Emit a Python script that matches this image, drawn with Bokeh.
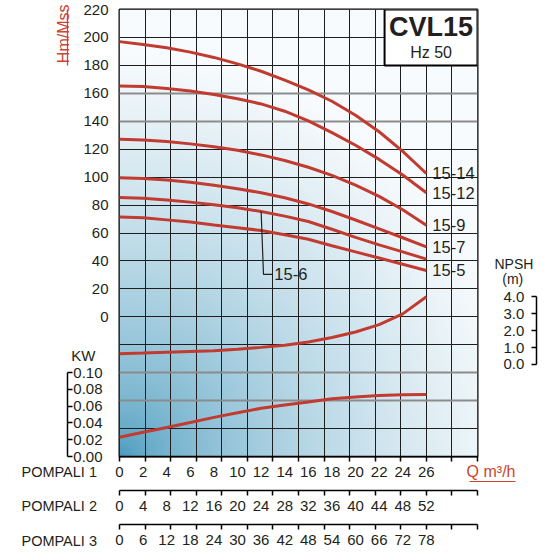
import numpy as np
from bokeh.plotting import figure
from bokeh.models import (Range1d, LinearAxis, FixedTicker, Grid, ColumnDataSource,
                          NumeralTickFormatter, Title)
from bokeh.core.properties import value
from bokeh.embed import file_html
from bokeh.resources import INLINE

# ---------------- data ----------------
q = [0, 2, 4, 6, 8, 10, 12, 14, 16, 18, 20, 22, 24, 26]          # m3/h, 1 pump
h_15_14 = [197.0, 195.0, 192.6, 189.5, 185.7, 181.1, 175.8, 169.5, 162.5, 154.3, 144.3, 132.5, 118.5, 102.6]
h_15_12 = [165.3, 164.8, 163.4, 161.6, 159.2, 156.1, 152.4, 147.2, 140.2, 131.9, 122.8, 112.7, 101.5, 88.8]
h_15_9 = [127.2, 126.6, 125.5, 123.8, 121.7, 119.2, 115.9, 111.9, 107.1, 101.3, 94.3, 86.2, 76.6, 65.5]
h_15_7 = [99.5, 99.0, 98.0, 96.3, 94.2, 91.7, 88.8, 85.2, 80.8, 75.4, 69.3, 63.0, 56.6, 50.0]
h_15_6 = [85.4, 84.8, 83.6, 82.1, 80.2, 78.1, 75.4, 72.1, 68.2, 62.7, 56.9, 51.5, 46.5, 41.3]
h_15_5 = [71.5, 70.9, 69.4, 67.8, 65.7, 63.8, 61.8, 58.8, 55.5, 50.9, 46.5, 42.1, 37.6, 33.2]
kw = [0.023, 0.029, 0.0345, 0.0405, 0.0467, 0.0523, 0.0575, 0.0615, 0.0650, 0.0690, 0.0710, 0.0727, 0.0738, 0.0741]
npsh = [0.63, 0.67, 0.72, 0.77, 0.81, 0.90, 1.01, 1.14, 1.33, 1.59, 1.92, 2.36, 2.99, 4.0]

end_names = ["15-14", "15-12", "15-9", "15-7", "15-5"]
h_ticks = list(range(0, 221, 20))
kw_ticks = [0.0, 0.02, 0.04, 0.06, 0.08, 0.10]
npsh_ticks = [0.0, 1.0, 2.0, 3.0, 4.0]
pump_counts = [1, 2, 3]
title = "CVL15"
subtitle = "Hz 50"
y_title = "Hm/Mss"
x_title = "Q m\u00b3/h"
kw_title = "KW"
npsh_title = ["NPSH", "\u00a0\u00a0(m)"]

# ---------------- style / layout ----------------
FONT = "Liberation Sans"
RED = "#c23b30"
TRED = "#c9472f"
INK = "#231f20"

grid_cols, curve_cols = 14, 12
x_max = q[-1] * grid_cols / curve_cols
x_grid = [k * x_max / grid_cols for k in range(grid_cols + 1)]
h_lo, h_hi = -100, 220
kw_per_h = 0.1 / 60
npsh_zero_h, h_per_m = -34.1, 12.1
gray_rows = [160, 140, -40, -60]

p = figure(width=554, height=554, x_range=Range1d(0, x_max), y_range=Range1d(h_lo, h_hi),
           output_backend="svg", toolbar_location=None,
           min_border_left=119, min_border_right=77, min_border_top=9, min_border_bottom=98,
           outline_line_color="black", outline_line_width=2,
           background_fill_color="white", border_fill_color="white")
p.extra_y_ranges = {"kw": Range1d(0, (h_hi - h_lo) * kw_per_h),
                    "npsh": Range1d((h_lo - npsh_zero_h) / h_per_m, (h_hi - npsh_zero_h) / h_per_m)}
p.extra_x_ranges = {"p2": Range1d(0, 2 * x_max), "p3": Range1d(0, 3 * x_max)}

# background gradient (blue in the lower-left corner fading to white)
nx, ny = 180, 220
u = np.linspace(0, 1, nx)[None, :]
v = np.linspace(0, 1, ny)[:, None]
d = np.sqrt((u * 358) ** 2 + (v * 445) ** 2)
t = np.clip(d / 400.0, 0, 1) ** 0.6
c0 = np.array([68, 152, 188], dtype=float)
c1 = np.array([248, 251, 253], dtype=float)
rgb = c0 + (c1 - c0) * t[..., None]
img = np.empty((ny, nx), dtype=np.uint32)
view = img.view(dtype=np.uint8).reshape((ny, nx, 4))
view[..., :3] = rgb.astype(np.uint8)
view[..., 3] = 255
p.image_rgba(image=[img], x=0, y=h_lo, dw=x_max, dh=h_hi - h_lo, level="image")

# grids
p.xgrid[0].ticker = FixedTicker(ticks=x_grid)
p.xgrid[0].grid_line_color = "#1e1e1e"
p.xgrid[0].grid_line_width = 1
p.ygrid[0].ticker = FixedTicker(ticks=[r for r in range(h_lo, h_hi + 1, 20) if r not in gray_rows])
p.ygrid[0].grid_line_color = "#1e1e1e"
p.ygrid[0].grid_line_width = 1
p.add_layout(Grid(dimension=1, ticker=FixedTicker(ticks=gray_rows),
                  grid_line_color="#8c8c8c", grid_line_width=2))


def style_text(ax, size="15px", color=INK):
    ax.major_label_text_font = FONT
    ax.major_label_text_font_size = size
    ax.major_label_text_color = color


def bare(ax, size="15px", color=INK):
    ax.major_tick_out = 0
    ax.major_tick_in = 0
    ax.minor_tick_out = 0
    ax.minor_tick_in = 0
    ax.major_tick_line_color = None
    ax.minor_tick_line_color = None
    ax.axis_line_color = None
    style_text(ax, size, color)


def pad(ax, size, standoff):
    ax.axis_label = " "
    ax.axis_label_text_font = FONT
    ax.axis_label_text_font_size = size
    ax.axis_label_standoff = standoff


def scale_axis(ax):
    ax.major_tick_out = 5
    ax.major_tick_in = 0
    ax.major_tick_line_color = None
    ax.minor_tick_out = 5
    ax.minor_tick_in = 0
    ax.minor_tick_line_color = "black"
    ax.minor_tick_line_width = 1.5
    ax.axis_line_color = "black"
    ax.axis_line_width = 1.5
    ax.major_label_standoff = 5
    style_text(ax)


def text_title(text, side, size, color=INK, **kw_):
    t_ = Title(text=text, text_font=FONT, text_font_size=size, text_font_style="normal",
               text_color=color, **kw_)
    p.add_layout(t_, side)


ax1 = p.xaxis[0]
ay = p.yaxis[0]

# ---- bottom: three flow scales (1, 2, 3 pumps) ----
ax1.ticker = FixedTicker(ticks=q, minor_ticks=x_grid)
scale_axis(ax1)
pad(ax1, "7px", 1)
for n, rname in zip(pump_counts[1:], ["p2", "p3"]):
    axn = LinearAxis(x_range_name=rname,
                     ticker=FixedTicker(ticks=[n * val for val in q],
                                        minor_ticks=[n * g for g in x_grid]))
    scale_axis(axn)
    if n < pump_counts[-1]:
        pad(axn, "7px", 1)
    p.add_layout(axn, "below")

# row titles, lifted into the rows of the scales
text_title(x_title, "below", "16px", TRED, align="right", offset=-38,
           vertical_align="top", standoff=-170)
# thin red underline under the flow unit (a blank title with a filled background)
p.add_layout(Title(text="\u2003" * 46, text_font=FONT, text_font_size="1px",
                   text_color=TRED, background_fill_color=TRED, background_fill_alpha=1.0,
                   align="right", offset=-38, vertical_align="top", standoff=-133), "below")
for n, so in zip(pump_counts, [-168, -99, -30]):
    text_title(f"POMPALI {n}", "below", "14.5px", align="left", offset=-98,
               vertical_align="top", standoff=so)

# ---- left: head labels, Hm/Mss underline, kW bracket, KW title, Hm/Mss title ----
ay.ticker = FixedTicker(ticks=h_ticks)
bare(ay)
ay.major_label_standoff = 11
pad(ay, "8px", 1)

ahm = LinearAxis(ticker=FixedTicker(ticks=[]), bounds=(180, 220))
bare(ahm)
ahm.axis_line_color = TRED
ahm.axis_line_width = 1.3
p.add_layout(ahm, "left")

akw = LinearAxis(y_range_name="kw", ticker=FixedTicker(ticks=kw_ticks),
                 bounds=(kw_ticks[0], kw_ticks[-1]),
                 formatter=NumeralTickFormatter(format="0.00"))
akw.major_tick_in = 5
akw.major_tick_out = 0
akw.minor_tick_out = 0
akw.minor_tick_in = 0
akw.major_tick_line_width = 1.5
akw.axis_line_width = 1.5
akw.major_label_standoff = -35
style_text(akw)
p.add_layout(akw, "left")

kw_title_pos = -28        # in head units
akwl = LinearAxis(ticker=FixedTicker(ticks=[kw_title_pos]),
                  bounds=(kw_title_pos - 1, kw_title_pos + 1),
                  major_label_overrides={kw_title_pos: kw_title})
bare(akwl)
akwl.major_label_standoff = -28
p.add_layout(akwl, "left")

text_title(y_title, "left", "16px", TRED, align="right", offset=-5,
           vertical_align="bottom", standoff=-9)

# ---- right: NPSH title + NPSH bracket ----
npsh_title_pos = [38, 27]  # in head units
spacer = LinearAxis(ticker=FixedTicker(ticks=npsh_title_pos),
                    major_label_overrides=dict(zip(npsh_title_pos, npsh_title)))
bare(spacer, "14px")
spacer.major_label_standoff = 17
p.add_layout(spacer, "right")

anp = LinearAxis(y_range_name="npsh", ticker=FixedTicker(ticks=npsh_ticks),
                 bounds=(npsh_ticks[0], npsh_ticks[-1]),
                 formatter=NumeralTickFormatter(format="0.0"))
anp.major_tick_in = 5
anp.major_tick_out = 0
anp.minor_tick_out = 0
anp.minor_tick_in = 0
anp.major_tick_line_width = 1.5
anp.axis_line_width = 1.5
anp.major_label_standoff = -33
style_text(anp)
p.add_layout(anp, "right")

# ---- curves ----
for h in [h_15_14, h_15_12, h_15_9, h_15_7, h_15_6, h_15_5]:
    p.line(q, h, line_color=RED, line_width=3)
p.line(q, kw, y_range_name="kw", line_color=RED, line_width=3)
p.line(q, npsh, y_range_name="npsh", line_color=RED, line_width=3)

# curve end labels
end_src = ColumnDataSource(dict(x=[q[-1]] * len(end_names),
                                y=[h[-1] for h in [h_15_14, h_15_12, h_15_9, h_15_7, h_15_5]],
                                text=end_names))
p.text(x="x", y="y", text="text", source=end_src, x_offset=6, text_baseline="middle",
       text_align="left", text_font=value(FONT), text_font_size="16.5px", text_color=INK)

# 15-6 label with leader line
lbl6_q, lbl6_h, knee_q = 12.95, 30.4, 12.2
p.line([q[6], knee_q, lbl6_q], [h_15_6[6], lbl6_h, lbl6_h], line_color=INK, line_width=1.2)
p.text(x=[lbl6_q], y=[lbl6_h], text=["15-6"], x_offset=2, text_baseline="middle",
       text_align="left", text_font=value(FONT), text_font_size="16.5px", text_color=INK)

# title box
p.quad(left=[22.46], right=[x_max], top=[h_hi], bottom=[180], fill_color="white",
       line_color="black", line_width=2)
p.text(x=[26.4], y=[207.4], text=[title], text_align="center", text_baseline="middle",
       text_font=value(FONT), text_font_size="27px", text_font_style="bold", text_color=INK)
p.text(x=[26.4], y=[189.1], text=[subtitle], text_align="center", text_baseline="middle",
       text_font=value(FONT), text_font_size="16px", text_color=INK)

open("out.html", "w").write(file_html(p, INLINE))
